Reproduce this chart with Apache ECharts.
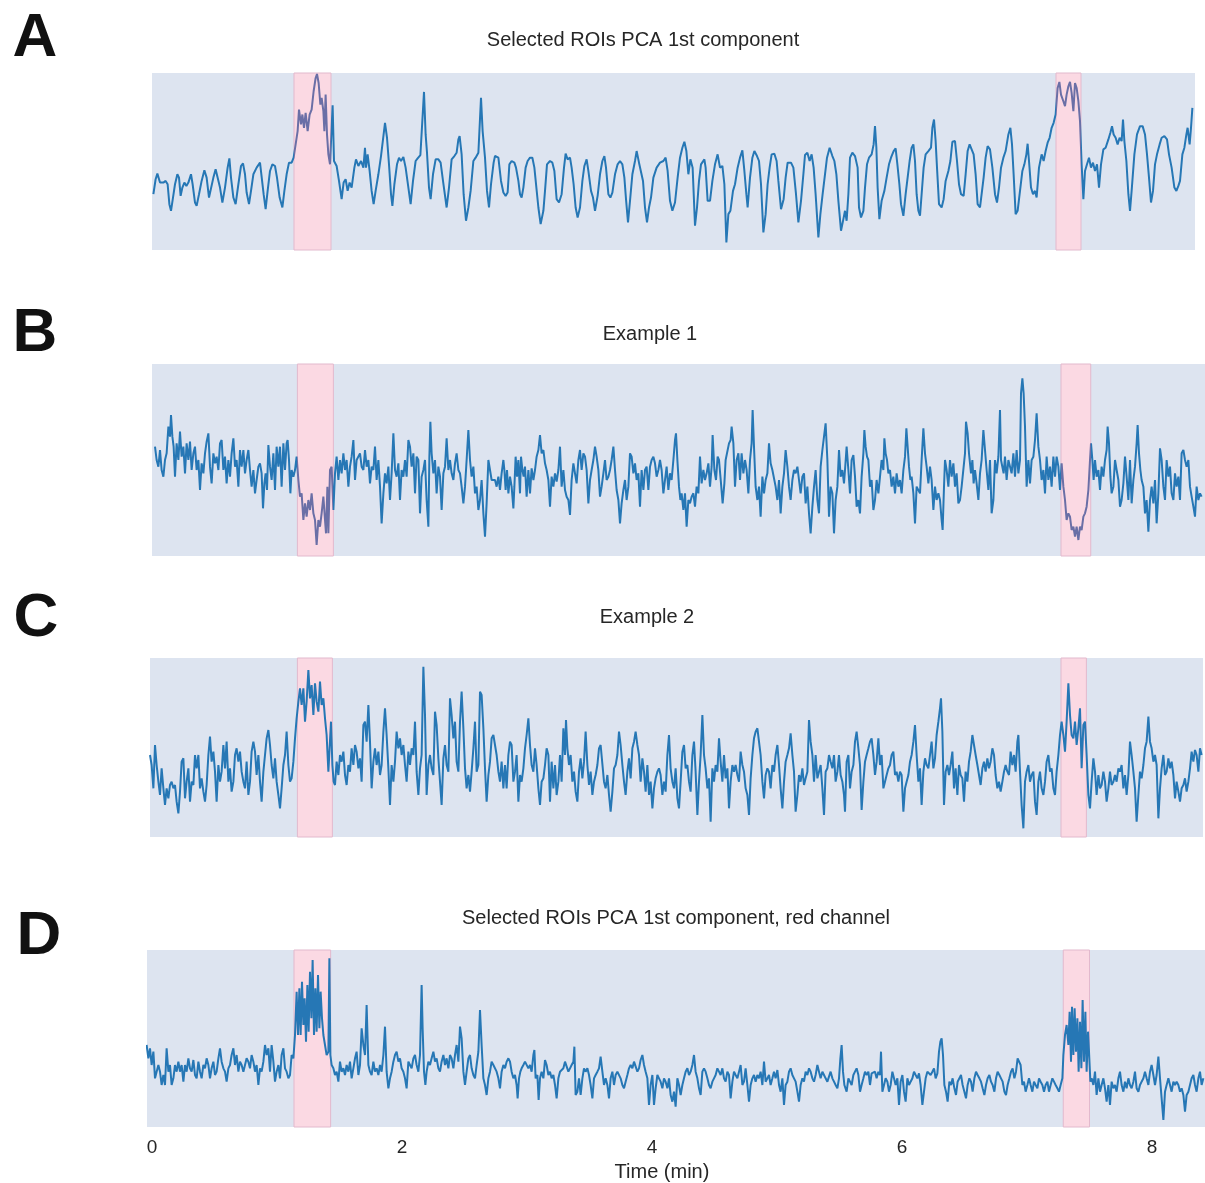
<!DOCTYPE html>
<html>
<head>
<meta charset="utf-8">
<script src="https://cdn.jsdelivr.net/npm/echarts@6.0.0/dist/echarts.min.js"></script>
<style>
  html, body { margin: 0; padding: 0; background: #fff; }
  #chart { width: 1205px; height: 1183px; }
</style>
</head>
<body>
<div id="chart"></div>
<script>
// ---- data (time in min, signal in a.u.) ----
const titles = ['Selected ROIs PCA 1st component', 'Example 1', 'Example 2', 'Selected ROIs PCA 1st component, red channel'];
const letters = ['A', 'B', 'C', 'D'];
const timeTicks = [0, 2, 4, 6, 8];

// stimulation windows (min)
const stimA = [[1.136, 1.432], [7.232, 7.432]];
const stimB = [[1.163, 1.451], [7.272, 7.510]];
const stimC = [[1.163, 1.443], [7.272, 7.475]];
const stimD = [[1.136, 1.429], [7.290, 7.500]];

const traceA = [[0.011,-0.30],[0.029,0.15],[0.043,0.32],[0.064,0.05],[0.091,0.05],[0.109,0.10],[0.125,0.00],[0.139,-0.60],[0.152,-0.80],[0.168,-0.40],[0.184,0.00],[0.203,0.30],[0.216,0.20],[0.229,-0.35],[0.243,-0.10],[0.259,0.05],[0.275,-0.05],[0.291,0.05],[0.312,0.30],[0.325,0.00],[0.344,-0.55],[0.357,-0.65],[0.376,-0.30],[0.397,0.10],[0.419,0.42],[0.437,0.20],[0.456,-0.40],[0.472,-0.45],[0.491,0.20],[0.509,0.45],[0.525,0.50],[0.544,-0.10],[0.563,-0.55],[0.584,-0.10],[0.605,0.50],[0.619,0.78],[0.632,0.20],[0.651,-0.40],[0.669,-0.60],[0.691,0.00],[0.712,0.55],[0.728,0.63],[0.744,0.30],[0.757,-0.25],[0.776,-0.60],[0.792,-0.20],[0.811,0.30],[0.837,0.50],[0.864,0.65],[0.877,0.60],[0.893,-0.30],[0.909,-0.75],[0.925,-0.20],[0.944,0.40],[0.963,0.60],[0.984,0.55],[1.000,0.20],[1.021,-0.40],[1.043,-0.70],[1.059,-0.20],[1.077,0.30],[1.096,0.65],[1.117,0.65],[1.133,0.80],[1.149,1.20],[1.165,1.60],[1.176,2.25],[1.192,1.80],[1.203,2.10],[1.216,1.70],[1.229,2.15],[1.245,1.60],[1.261,2.10],[1.277,2.25],[1.293,2.80],[1.309,3.20],[1.320,3.32],[1.333,3.05],[1.347,2.40],[1.357,2.60],[1.371,2.20],[1.379,1.60],[1.389,2.70],[1.400,1.50],[1.411,0.90],[1.424,0.60],[1.435,0.65],[1.445,2.38],[1.456,0.70],[1.477,0.55],[1.496,0.10],[1.517,-0.45],[1.533,0.05],[1.549,0.15],[1.565,-0.20],[1.581,0.05],[1.597,-0.10],[1.619,0.50],[1.632,0.75],[1.651,0.55],[1.672,0.70],[1.691,0.50],[1.704,1.10],[1.712,0.50],[1.725,0.90],[1.741,0.40],[1.757,-0.20],[1.773,-0.60],[1.789,-0.20],[1.811,0.30],[1.832,0.85],[1.848,0.80],[1.864,1.85],[1.880,1.40],[1.896,0.60],[1.912,-0.30],[1.923,-0.65],[1.939,0.00],[1.960,0.60],[1.976,0.80],[1.992,0.70],[2.011,0.82],[2.029,0.50],[2.051,-0.10],[2.069,-0.60],[2.088,0.10],[2.109,0.70],[2.125,0.78],[2.147,0.88],[2.163,0.90],[2.176,2.78],[2.189,1.50],[2.200,0.95],[2.216,-0.10],[2.229,-0.45],[2.248,0.30],[2.269,0.75],[2.291,0.75],[2.309,0.65],[2.328,0.10],[2.339,0.05],[2.357,-0.70],[2.376,-0.10],[2.397,0.75],[2.419,0.85],[2.437,0.95],[2.451,1.35],[2.461,1.45],[2.477,0.90],[2.493,-0.30],[2.512,-1.10],[2.531,-0.70],[2.549,-0.20],[2.571,0.70],[2.589,0.80],[2.611,0.95],[2.632,2.60],[2.645,1.60],[2.664,0.80],[2.680,-0.20],[2.696,-0.70],[2.712,0.00],[2.733,0.65],
[2.744,0.85],[2.771,0.80],[2.792,0.10],[2.811,-0.25],[2.829,-0.35],[2.845,-0.25],[2.859,0.60],[2.877,0.70],[2.899,0.65],[2.912,0.50],[2.931,0.10],[2.944,-0.30],[2.957,-0.40],[2.971,-0.10],[2.989,0.50],[3.005,0.70],[3.024,0.80],[3.043,0.80],[3.059,0.50],[3.075,-0.10],[3.091,-0.70],[3.109,-1.20],[3.131,-0.80],[3.144,-0.20],[3.160,0.60],[3.184,0.70],[3.203,0.65],[3.219,0.40],[3.237,-0.45],[3.256,-0.55],[3.277,-0.30],[3.296,0.50],[3.309,0.92],[3.325,0.75],[3.344,0.80],[3.357,0.50],[3.373,0.00],[3.389,-0.70],[3.405,-1.00],[3.424,-0.70],[3.443,0.10],[3.459,0.55],[3.477,0.75],[3.491,0.40],[3.512,-0.20],[3.528,-0.40],[3.544,-0.80],[3.565,-0.35],[3.584,0.30],[3.603,0.70],[3.619,0.85],[3.632,0.50],[3.651,-0.30],[3.667,-0.40],[3.683,-0.25],[3.704,0.30],[3.725,0.60],[3.744,0.70],[3.763,0.60],[3.779,0.20],[3.792,-0.45],[3.808,-1.15],[3.824,-0.50],[3.843,0.30],[3.864,0.70],[3.877,1.00],[3.896,0.65],[3.912,0.60],[3.928,0.10],[3.944,-0.70],[3.960,-1.15],[3.976,-0.70],[3.992,-0.40],[4.011,0.20],[4.037,0.50],[4.064,0.65],[4.091,0.70],[4.109,0.80],[4.125,0.40],[4.144,-0.50],[4.163,-0.80],[4.184,-0.55],[4.205,0.20],[4.224,0.80],[4.243,1.10],[4.259,1.28],[4.275,1.00],[4.291,0.30],[4.307,0.75],[4.325,0.50],[4.344,-1.25],[4.360,-0.70],[4.376,0.10],[4.392,0.60],[4.419,0.75],[4.429,0.50],[4.445,-0.50],[4.464,-0.50],[4.483,0.10],[4.504,0.60],[4.525,0.90],[4.544,0.50],[4.563,0.55],[4.579,0.00],[4.595,-1.75],[4.611,-0.90],[4.627,-0.80],[4.648,-0.20],[4.664,0.00],[4.685,0.50],[4.704,0.80],[4.723,1.02],[4.739,0.40],[4.755,-0.30],[4.765,-0.70],[4.784,0.20],[4.803,0.80],[4.819,1.00],[4.840,0.85],[4.856,0.70],[4.872,0.00],[4.891,-1.45],[4.909,-0.90],[4.925,0.00],[4.941,0.50],[4.957,0.90],[4.979,0.92],[4.997,0.70],[5.011,0.10],[5.032,-0.75],[5.053,-0.45],[5.069,0.20],[5.085,0.65],[5.112,0.65],[5.131,0.50],[5.152,-0.30],[5.171,-1.15],[5.192,-0.50],[5.211,0.30],[5.224,0.88],[5.243,0.95],[5.261,0.70],[5.277,0.90],[5.293,0.50],[5.309,-0.30],[5.331,-1.60],[5.347,-0.90],[5.365,-0.30],[5.384,0.30],[5.400,0.80],[5.421,1.10],[5.443,0.85],[5.459,0.70],[5.475,0.30],[5.491,-0.50],[5.512,-1.40],[5.531,-1.05],
[5.544,-0.80],[5.557,-1.10],[5.571,-0.30],[5.584,0.80],[5.603,0.95],[5.624,0.85],[5.645,0.50],[5.656,-0.70],[5.672,-1.00],[5.691,-0.80],[5.704,-0.10],[5.720,0.60],[5.736,0.80],[5.757,0.90],[5.773,1.20],[5.784,1.75],[5.795,1.10],[5.805,-0.10],[5.819,-1.05],[5.837,-0.50],[5.859,-0.20],[5.877,0.20],[5.896,0.60],[5.912,0.80],[5.933,1.00],[5.949,1.08],[5.963,0.60],[5.979,0.00],[5.992,-0.60],[6.011,-0.95],[6.029,-0.30],[6.045,0.20],[6.061,0.70],[6.077,1.10],[6.091,1.20],[6.104,0.70],[6.117,-0.30],[6.131,-0.80],[6.144,-0.95],[6.157,-0.30],[6.173,0.50],[6.189,0.90],[6.211,1.00],[6.232,1.10],[6.243,1.70],[6.256,1.95],[6.269,1.30],[6.280,0.50],[6.296,-0.60],[6.317,-0.70],[6.333,-0.45],[6.349,0.10],[6.371,0.40],[6.387,0.70],[6.403,1.28],[6.424,1.30],[6.440,0.70],[6.456,0.00],[6.472,-0.30],[6.493,-0.35],[6.509,0.30],[6.525,1.00],[6.541,1.20],[6.557,1.18],[6.573,0.90],[6.589,0.30],[6.605,-0.60],[6.624,-0.70],[6.637,-0.30],[6.653,0.20],[6.669,0.80],[6.685,1.15],[6.704,1.05],[6.723,0.50],[6.744,-0.30],[6.760,-0.55],[6.776,-0.10],[6.792,0.50],[6.811,0.80],[6.829,1.00],[6.851,1.50],[6.867,1.70],[6.880,1.20],[6.893,0.30],[6.909,-0.90],[6.925,-0.80],[6.944,-0.20],[6.963,0.40],[6.979,0.60],[6.995,0.90],[7.005,1.22],[7.016,0.70],[7.032,-0.10],[7.048,-0.30],[7.064,-0.20],[7.077,-0.40],[7.096,0.50],[7.117,0.90],[7.133,0.70],[7.149,1.00],[7.165,1.25],[7.181,1.40],[7.197,1.70],[7.213,1.85],[7.229,2.10],[7.245,2.90],[7.259,3.08],[7.272,2.70],[7.291,2.50],[7.304,2.35],[7.317,2.70],[7.331,2.95],[7.344,3.08],[7.357,2.75],[7.371,2.20],[7.384,3.05],[7.397,2.90],[7.411,2.50],[7.424,1.90],[7.437,0.60],[7.451,-0.45],[7.464,0.40],[7.480,0.60],[7.496,0.80],[7.512,0.50],[7.528,0.65],[7.544,0.40],[7.560,0.60],[7.576,-0.10],[7.592,0.60],[7.611,1.05],[7.629,1.10],[7.651,1.35],[7.667,1.55],[7.680,1.75],[7.693,1.50],[7.709,1.40],[7.725,1.20],[7.741,1.40],[7.757,1.30],[7.768,1.95],[7.779,1.30],[7.795,0.70],[7.811,-0.30],[7.824,-0.80],[7.837,-0.20],[7.859,0.90],[7.880,1.50],[7.904,1.75],[7.925,1.75],[7.944,1.50],[7.960,0.90],[7.976,0.20],[7.992,-0.55],[8.008,-0.20],[8.024,0.60],[8.040,0.90],[8.061,1.20],[8.077,1.40],[8.099,1.45],[8.120,1.35],[8.136,0.90],[8.157,0.50],[8.179,-0.10],[8.195,-0.20],[8.211,-0.05],[8.224,0.10],[8.243,0.90],[8.259,1.10],[8.275,1.50],[8.285,1.70],[8.301,1.20],[8.312,1.70],[8.323,2.30]];

const traceB = [[0.024,0.70],[0.037,0.30],[0.051,0.10],[0.064,0.60],[0.077,0.00],[0.091,-0.20],[0.104,0.30],[0.117,0.50],[0.131,1.30],[0.144,1.00],[0.152,1.65],[0.163,1.00],[0.173,0.70],[0.184,-0.20],[0.197,0.80],[0.211,0.30],[0.224,1.15],[0.237,0.40],[0.251,0.70],[0.264,-0.10],[0.277,0.80],[0.291,0.30],[0.304,0.85],[0.317,0.00],[0.331,0.50],[0.344,0.70],[0.357,0.00],[0.371,0.30],[0.384,-0.60],[0.397,0.20],[0.411,-0.10],[0.424,0.50],[0.437,0.85],[0.451,1.10],[0.464,0.10],[0.477,-0.40],[0.491,0.50],[0.504,0.20],[0.517,0.40],[0.531,0.00],[0.544,0.80],[0.557,0.90],[0.571,0.00],[0.584,0.40],[0.597,-0.40],[0.611,0.30],[0.624,-0.20],[0.637,0.50],[0.651,0.95],[0.664,0.10],[0.677,0.30],[0.691,-0.50],[0.704,0.60],[0.717,0.10],[0.731,0.60],[0.744,-0.10],[0.757,0.30],[0.771,0.60],[0.784,0.00],[0.797,-0.50],[0.811,0.00],[0.824,-0.70],[0.837,-0.30],[0.851,0.10],[0.864,0.20],[0.877,-0.10],[0.888,-1.15],[0.899,-0.40],[0.909,-0.10],[0.920,-0.60],[0.931,0.75],[0.944,0.10],[0.957,-0.30],[0.971,0.50],[0.984,-0.60],[0.997,0.70],[1.011,0.10],[1.024,0.70],[1.037,-0.50],[1.051,0.80],[1.064,0.00],[1.077,0.80],[1.085,0.90],[1.096,0.30],[1.107,-0.70],[1.117,0.00],[1.131,-0.20],[1.144,0.00],[1.157,0.40],[1.171,-0.30],[1.184,-0.80],[1.197,-0.70],[1.211,-1.50],[1.224,-1.00],[1.237,-1.40],[1.251,-0.90],[1.264,-1.20],[1.277,-0.70],[1.291,-1.30],[1.304,-1.50],[1.317,-2.25],[1.331,-1.50],[1.344,-1.70],[1.357,-1.30],[1.371,-0.80],[1.384,-1.50],[1.392,-1.90],[1.403,-0.50],[1.411,-1.90],[1.424,0.00],[1.437,0.10],[1.451,-1.20],[1.464,-0.10],[1.477,0.40],[1.491,-0.30],[1.504,0.30],[1.517,-0.10],[1.531,0.50],[1.544,0.00],[1.557,0.30],[1.571,-0.50],[1.584,0.10],[1.597,0.40],[1.611,0.90],[1.624,-0.30],[1.637,0.30],[1.651,0.30],[1.664,0.50],[1.677,0.10],[1.691,0.00],[1.704,0.60],[1.717,0.10],[1.731,0.30],[1.744,-0.40],[1.757,0.10],[1.771,0.00],[1.784,0.70],[1.797,-0.30],[1.811,0.30],[1.824,-0.50],[1.837,-1.60],[1.851,-0.70],[1.864,-0.10],[1.877,-0.40],[1.891,0.10],[1.904,-0.90],[1.917,-0.10],[1.931,1.10],[1.944,0.00],[1.957,-0.20],[1.971,0.20],[1.984,-0.90],[1.997,0.00],[2.011,-0.20],[2.024,0.30],[2.037,-0.20],[2.051,0.90],[2.064,0.70],[2.077,0.10],[2.091,0.50],[2.104,-0.70],[2.117,0.40],[2.131,0.30],[2.144,-1.30],[2.157,-0.20],[2.171,0.00],[2.184,0.30],[2.197,-0.90],[2.211,-1.70],[2.219,0.40],[2.227,1.45],[2.237,0.50],[2.251,-0.10],[2.264,0.30],[2.277,-0.70],[2.291,0.10],[2.304,-0.20],[2.317,-1.20],[2.331,-0.10],[2.344,0.10],[2.357,0.95],[2.371,0.00],[2.384,0.30],[2.397,-0.10],[2.411,-0.30],[2.424,0.20],[2.437,0.50],[2.451,0.00],[2.464,-0.10],[2.477,-0.50],[2.491,-1.00],[2.504,-0.50],[2.517,0.30],[2.531,1.20],[2.544,0.30],[2.557,-0.20],[2.571,0.10],[2.584,-0.70],[2.597,-0.50],[2.611,-1.20],[2.624,-0.90],[2.637,-0.30],[2.651,-1.30],[2.664,-2.00],[2.677,-1.00],[2.691,0.30],[2.704,0.30],[2.717,-0.30],[2.731,-0.30],
[2.744,-0.30],[2.757,-0.50],[2.771,-0.20],[2.784,-0.60],[2.797,-0.10],[2.811,0.30],[2.819,0.00],[2.829,-0.60],[2.840,0.00],[2.851,-0.70],[2.864,-0.20],[2.877,-0.50],[2.891,-1.15],[2.899,-0.50],[2.909,0.40],[2.920,-0.20],[2.931,0.30],[2.944,-0.70],[2.952,0.40],[2.963,0.00],[2.973,-0.20],[2.984,0.10],[2.997,-0.80],[3.011,0.00],[3.024,-0.70],[3.037,0.05],[3.051,-0.30],[3.064,0.00],[3.077,0.40],[3.091,0.60],[3.104,1.05],[3.117,0.50],[3.131,0.60],[3.144,0.20],[3.157,0.00],[3.171,-0.30],[3.184,-1.10],[3.197,-0.20],[3.211,-0.50],[3.224,-0.10],[3.237,-0.35],[3.251,0.00],[3.264,0.70],[3.277,-0.50],[3.291,0.00],[3.304,-0.60],[3.317,-0.80],[3.331,-0.90],[3.344,-1.35],[3.357,-0.30],[3.371,0.20],[3.384,-0.10],[3.397,-0.40],[3.411,0.30],[3.424,0.60],[3.437,0.00],[3.451,0.50],[3.464,0.40],[3.477,0.00],[3.491,-1.00],[3.504,-0.30],[3.517,0.00],[3.531,0.30],[3.544,0.70],[3.557,0.40],[3.571,0.00],[3.584,-0.80],[3.597,-0.50],[3.611,-0.10],[3.624,0.30],[3.637,-0.30],[3.651,-0.20],[3.664,0.00],[3.677,0.30],[3.691,0.70],[3.704,0.00],[3.717,-0.60],[3.731,-0.90],[3.744,-1.60],[3.757,-1.00],[3.771,-0.60],[3.784,-0.30],[3.797,-0.90],[3.811,-0.50],[3.824,0.50],[3.837,0.40],[3.851,-0.10],[3.864,0.20],[3.877,-0.30],[3.891,-0.10],[3.904,-1.10],[3.917,0.00],[3.931,-0.60],[3.944,0.00],[3.957,0.10],[3.971,-0.60],[3.984,0.10],[3.997,0.30],[4.011,0.40],[4.024,0.20],[4.037,-0.20],[4.051,0.00],[4.064,0.30],[4.077,0.00],[4.091,-0.70],[4.104,-0.30],[4.117,0.10],[4.131,-0.60],[4.144,-0.10],[4.157,-0.30],[4.171,0.30],[4.184,0.90],[4.192,1.10],[4.203,0.30],[4.216,-0.50],[4.227,-0.90],[4.237,-0.70],[4.251,-1.20],[4.264,-0.70],[4.277,-1.70],[4.291,-0.90],[4.304,-1.00],[4.317,-0.80],[4.331,-0.70],[4.344,-1.10],[4.357,-0.50],[4.371,-0.70],[4.384,0.40],[4.397,-0.40],[4.411,0.00],[4.424,-0.30],[4.437,-0.10],[4.451,0.20],[4.464,-0.50],[4.477,0.10],[4.485,1.05],[4.499,0.00],[4.512,-0.30],[4.525,0.40],[4.536,0.30],[4.552,-0.40],[4.565,-1.00],[4.579,-0.40],[4.589,0.30],[4.603,0.30],[4.616,0.80],[4.629,0.90],[4.637,1.30],[4.651,0.80],[4.664,-0.50],[4.677,0.30],[4.691,0.50],[4.704,-0.30],[4.717,0.50],[4.731,-0.10],[4.744,0.30],[4.757,0.00],[4.771,-0.70],[4.784,0.30],[4.797,0.80],[4.805,1.80],[4.816,0.70],[4.829,-0.50],[4.843,-0.90],[4.856,-0.50],[4.869,-1.40],[4.883,-0.20],[4.896,-0.70],[4.909,-0.30],[4.923,-0.10],[4.936,0.80],[4.949,0.20],[4.963,0.00],[4.976,0.00],[4.989,-0.50],[5.003,-0.90],[5.016,-0.30],[5.029,-1.30],[5.043,-0.50],[5.056,-0.10],[5.069,0.60],[5.083,0.10],[5.096,-0.50],[5.109,-0.90],[5.123,-0.30],[5.136,0.00],[5.149,-0.10],[5.163,0.10],[5.176,-0.30],[5.189,-0.70],[5.203,-0.20],[5.216,-0.10],[5.229,-1.00],[5.243,-0.50],[5.256,-1.30],[5.269,-1.90],[5.283,-1.10],[5.296,-0.50],[5.309,0.00],[5.323,-0.90],[5.336,-1.30],[5.349,0.10],[5.363,0.60],[5.376,1.00],[5.389,1.40],[5.403,0.30],[5.416,-1.40],[5.429,-0.50],[5.443,-0.70],[5.456,-1.90],[5.469,-0.90],[5.483,-0.50],[5.496,0.60],[5.509,-0.20],[5.523,0.00],[5.536,-0.40],
[5.544,0.00],[5.557,0.70],[5.571,0.00],[5.584,-0.70],[5.597,0.30],[5.611,0.45],[5.624,-0.20],[5.637,-1.10],[5.651,-0.90],[5.664,-1.30],[5.677,-0.20],[5.691,0.50],[5.699,1.20],[5.709,0.70],[5.720,0.40],[5.731,0.30],[5.744,-0.50],[5.757,-0.30],[5.771,-1.20],[5.784,-0.90],[5.797,-0.30],[5.811,-0.70],[5.824,-0.20],[5.837,0.30],[5.851,0.00],[5.859,0.95],[5.869,0.50],[5.880,0.30],[5.891,-0.10],[5.904,0.00],[5.917,-0.50],[5.931,-0.20],[5.944,-0.70],[5.957,-0.10],[5.971,-0.50],[5.984,-0.30],[5.997,-0.70],[6.011,0.00],[6.024,0.40],[6.035,1.25],[6.045,0.70],[6.056,0.10],[6.067,-0.30],[6.077,-0.20],[6.091,-0.70],[6.104,-1.60],[6.117,-0.50],[6.131,-0.50],[6.144,-0.70],[6.157,0.30],[6.171,1.25],[6.184,0.50],[6.197,0.10],[6.211,-0.40],[6.224,0.10],[6.237,-0.30],[6.251,-1.20],[6.264,-0.50],[6.277,-0.90],[6.291,-0.70],[6.304,-0.90],[6.317,-1.50],[6.325,-1.80],[6.336,-0.50],[6.344,0.30],[6.357,0.00],[6.371,-0.50],[6.384,0.30],[6.397,-0.20],[6.411,0.20],[6.424,-0.50],[6.437,-0.10],[6.451,-1.00],[6.464,-0.90],[6.477,-0.50],[6.491,-0.50],[6.504,0.50],[6.512,1.45],[6.525,1.10],[6.536,0.50],[6.552,-0.10],[6.563,0.30],[6.573,-0.40],[6.584,0.00],[6.597,-0.40],[6.611,-0.90],[6.624,-0.10],[6.637,0.30],[6.651,1.20],[6.664,0.60],[6.677,0.00],[6.691,-0.60],[6.704,0.30],[6.717,-1.30],[6.731,-0.90],[6.744,0.30],[6.757,-0.10],[6.771,0.40],[6.784,1.80],[6.792,0.30],[6.803,0.30],[6.813,-0.10],[6.824,0.40],[6.837,-0.30],[6.851,0.30],[6.864,0.30],[6.877,-0.10],[6.891,0.50],[6.904,-0.20],[6.917,0.60],[6.931,-0.10],[6.944,0.30],[6.952,2.30],[6.963,2.75],[6.973,2.30],[6.984,1.30],[6.997,-0.50],[7.011,0.30],[7.024,-0.40],[7.037,0.30],[7.051,0.40],[7.064,0.90],[7.077,1.70],[7.091,0.70],[7.104,0.30],[7.117,-0.30],[7.131,0.00],[7.144,-0.70],[7.157,0.40],[7.171,-0.30],[7.184,0.10],[7.197,-0.50],[7.211,0.40],[7.224,-0.20],[7.237,0.40],[7.251,0.10],[7.264,-0.60],[7.277,0.20],[7.291,-0.50],[7.304,-0.90],[7.317,-1.50],[7.331,-1.30],[7.344,-1.40],[7.357,-1.80],[7.371,-1.70],[7.384,-2.00],[7.397,-1.70],[7.411,-2.10],[7.424,-1.70],[7.437,-1.80],[7.451,-1.40],[7.464,-1.30],[7.477,-1.10],[7.491,-0.60],[7.504,0.30],[7.512,0.80],[7.523,0.30],[7.533,-0.30],[7.544,0.30],[7.557,-0.20],[7.571,0.00],[7.584,-0.60],[7.597,0.10],[7.611,-0.20],[7.624,0.30],[7.637,0.60],[7.645,1.30],[7.656,0.80],[7.667,-0.20],[7.677,-0.70],[7.691,-0.50],[7.704,0.30],[7.717,0.00],[7.731,-0.30],[7.744,-1.10],[7.757,-0.90],[7.771,-0.40],[7.784,0.40],[7.797,-0.20],[7.811,-0.90],[7.824,0.30],[7.837,-1.00],[7.851,-0.30],[7.864,0.10],[7.877,0.80],[7.885,1.35],[7.896,0.50],[7.907,0.00],[7.917,-0.30],[7.931,-0.50],[7.944,-1.30],[7.957,-0.90],[7.971,-1.85],[7.984,-0.90],[7.997,-0.50],[8.011,-1.00],[8.024,-0.30],[8.037,-1.60],[8.051,-0.70],[8.064,0.65],[8.077,0.30],[8.091,-0.50],[8.104,-0.90],[8.117,0.30],[8.131,-0.20],[8.144,0.10],[8.157,-0.70],[8.171,-0.90],[8.184,-0.10],[8.197,-0.50],[8.211,-0.20],[8.224,-0.90],[8.237,0.50],[8.251,0.60],[8.264,0.30],[8.277,0.10],[8.291,0.30],[8.304,-0.50],[8.317,-0.80],[8.331,-1.10],[8.344,-1.40],[8.357,-0.50],[8.371,-0.90],[8.384,-0.70],[8.397,-0.80]];

const traceC = [[-0.016,0.30],[-0.003,0.00],[0.011,-0.70],[0.024,0.60],[0.037,0.00],[0.051,-0.50],[0.064,-0.90],[0.077,-0.10],[0.091,-0.70],[0.104,-1.20],[0.117,-0.70],[0.131,-1.00],[0.144,-0.60],[0.157,-0.50],[0.171,-0.70],[0.184,-0.60],[0.197,-1.10],[0.211,-1.45],[0.224,-0.80],[0.237,0.10],[0.251,0.20],[0.264,-1.00],[0.277,-0.50],[0.291,-0.10],[0.304,-1.10],[0.317,-0.50],[0.331,-0.60],[0.344,0.30],[0.357,-0.10],[0.371,0.30],[0.384,-0.70],[0.397,-0.40],[0.411,-0.80],[0.424,-1.10],[0.437,-0.60],[0.451,0.30],[0.464,0.85],[0.477,0.10],[0.491,0.40],[0.504,-0.20],[0.517,-1.10],[0.531,0.00],[0.544,-0.50],[0.557,-0.20],[0.571,0.60],[0.584,-0.10],[0.597,0.70],[0.611,-0.50],[0.624,-0.10],[0.637,-0.80],[0.651,-0.50],[0.664,0.30],[0.677,0.50],[0.691,0.10],[0.704,0.40],[0.717,-0.20],[0.731,-0.50],[0.744,-0.70],[0.757,0.10],[0.771,-0.90],[0.784,-0.50],[0.797,0.40],[0.811,0.70],[0.824,0.40],[0.837,-0.30],[0.851,0.30],[0.864,-0.50],[0.877,-1.10],[0.891,-0.20],[0.904,0.30],[0.917,0.80],[0.931,1.05],[0.944,0.60],[0.957,0.00],[0.971,-0.40],[0.984,0.20],[0.997,-0.50],[1.011,-0.90],[1.024,-1.30],[1.037,-0.70],[1.051,0.00],[1.064,0.30],[1.077,1.00],[1.091,0.00],[1.104,-0.50],[1.117,-0.40],[1.131,0.10],[1.144,0.80],[1.157,1.40],[1.171,1.90],[1.184,2.30],[1.197,1.80],[1.211,2.30],[1.224,1.30],[1.237,1.90],[1.251,2.85],[1.264,2.00],[1.277,2.40],[1.291,1.50],[1.304,2.45],[1.317,1.90],[1.331,1.60],[1.344,2.50],[1.357,1.80],[1.371,2.00],[1.384,1.40],[1.397,0.90],[1.411,-0.20],[1.424,-0.20],[1.432,1.30],[1.443,0.00],[1.453,-0.50],[1.464,-0.60],[1.477,0.10],[1.491,-0.30],[1.504,0.30],[1.517,0.10],[1.531,0.40],[1.544,-0.30],[1.557,-0.60],[1.571,0.00],[1.584,-0.20],[1.597,0.50],[1.611,0.00],[1.624,0.60],[1.637,0.40],[1.651,-0.10],[1.664,0.20],[1.677,-0.50],[1.691,1.20],[1.704,1.30],[1.717,0.70],[1.731,1.80],[1.744,0.70],[1.757,-0.70],[1.771,0.10],[1.784,0.50],[1.797,0.00],[1.811,0.40],[1.824,-0.30],[1.837,0.00],[1.851,1.00],[1.864,1.70],[1.877,0.90],[1.891,-0.10],[1.904,-1.20],[1.917,0.00],[1.931,-0.50],[1.944,0.10],[1.957,1.00],[1.971,0.50],[1.984,0.80],[1.997,0.30],[2.011,0.60],[2.024,0.00],[2.037,-0.50],[2.051,0.40],[2.064,0.00],[2.077,0.50],[2.091,0.30],[2.104,1.30],[2.117,-0.20],[2.131,-0.90],[2.144,-0.10],[2.157,0.30],[2.171,2.95],[2.184,1.50],[2.197,-0.90],[2.211,0.00],[2.224,0.30],[2.237,-0.10],[2.251,-0.30],[2.264,1.60],[2.277,1.20],[2.291,0.20],[2.304,-0.50],[2.317,-1.20],[2.331,0.20],[2.344,0.60],[2.357,0.00],[2.371,-0.20],[2.384,2.00],[2.397,1.50],[2.411,0.80],[2.424,1.30],[2.437,0.10],[2.451,-0.20],[2.464,1.30],[2.477,2.20],[2.491,1.10],[2.504,-0.10],[2.517,-0.70],[2.531,-0.30],[2.544,-0.80],[2.557,-0.20],[2.571,0.50],[2.584,1.30],[2.597,-0.20],[2.611,0.00],[2.624,2.20],[2.637,2.10],[2.651,1.10],[2.664,-0.10],[2.677,-1.10],[2.691,-0.30],[2.704,0.10],[2.717,0.80],[2.731,0.90],
[2.744,0.90],[2.757,0.30],[2.771,-0.20],[2.784,-0.50],[2.797,0.10],[2.811,-0.70],[2.824,0.00],[2.837,-0.70],[2.851,0.30],[2.864,0.70],[2.877,0.60],[2.891,-0.50],[2.904,-0.20],[2.917,0.30],[2.931,-1.10],[2.944,-0.30],[2.957,-0.50],[2.971,-0.10],[2.984,0.50],[2.997,0.90],[3.011,1.40],[3.024,0.60],[3.037,0.00],[3.051,-0.20],[3.064,0.50],[3.077,0.00],[3.091,-0.70],[3.104,-1.20],[3.117,-0.50],[3.131,-0.40],[3.144,0.00],[3.157,0.50],[3.171,0.30],[3.184,-1.10],[3.197,0.10],[3.211,-0.70],[3.224,0.00],[3.237,-0.90],[3.251,-0.50],[3.264,0.30],[3.277,-0.50],[3.291,1.10],[3.304,0.30],[3.312,1.35],[3.323,0.50],[3.336,0.00],[3.349,0.30],[3.363,-0.50],[3.376,-0.20],[3.389,-0.80],[3.403,-1.10],[3.416,-0.20],[3.429,0.20],[3.443,-0.40],[3.456,0.10],[3.469,1.00],[3.483,0.00],[3.496,-0.60],[3.509,-0.20],[3.523,-0.90],[3.536,-0.50],[3.549,-0.30],[3.563,0.00],[3.576,0.50],[3.589,0.60],[3.603,0.60],[3.616,-0.50],[3.629,-0.70],[3.643,-0.30],[3.656,-0.90],[3.669,-1.40],[3.683,-0.80],[3.696,-0.10],[3.709,0.00],[3.723,0.30],[3.736,1.00],[3.749,0.60],[3.763,0.00],[3.776,-0.50],[3.789,-0.90],[3.803,-0.20],[3.816,0.20],[3.829,-0.40],[3.843,0.50],[3.856,0.70],[3.869,1.00],[3.883,0.60],[3.896,0.30],[3.909,-0.50],[3.923,0.20],[3.936,-0.20],[3.949,-0.80],[3.963,0.00],[3.976,-0.90],[3.989,-0.50],[4.003,-1.30],[4.016,-0.70],[4.029,-0.40],[4.043,-0.20],[4.056,-0.10],[4.069,-0.30],[4.083,-0.90],[4.096,-0.50],[4.109,-0.80],[4.123,0.30],[4.136,0.90],[4.149,-0.10],[4.163,-0.50],[4.176,-0.70],[4.189,-0.10],[4.203,-1.00],[4.216,-1.30],[4.229,-0.50],[4.243,0.40],[4.256,0.60],[4.269,-0.10],[4.283,0.00],[4.296,-0.50],[4.309,-0.80],[4.323,0.30],[4.336,0.70],[4.349,-0.20],[4.363,-1.50],[4.376,-0.50],[4.389,0.30],[4.403,1.50],[4.416,0.30],[4.429,-0.10],[4.443,-0.70],[4.456,-0.40],[4.469,-1.70],[4.483,-0.10],[4.496,-0.50],[4.509,0.00],[4.523,-0.20],[4.536,0.80],[4.549,0.10],[4.563,-0.50],[4.576,0.30],[4.589,-0.40],[4.603,-0.10],[4.616,-1.30],[4.629,-0.50],[4.643,0.00],[4.656,-0.20],[4.669,0.00],[4.683,-0.30],[4.696,-0.50],[4.709,0.40],[4.723,0.00],[4.736,-0.20],[4.749,-0.70],[4.763,-0.90],[4.776,-1.50],[4.789,-0.40],[4.803,0.30],[4.816,0.80],[4.829,1.00],[4.843,1.10],[4.856,0.70],[4.869,0.30],[4.883,-0.50],[4.896,-1.00],[4.909,-0.30],[4.923,-0.10],[4.936,-0.20],[4.949,-0.70],[4.963,0.00],[4.976,-0.20],[4.989,0.30],[5.003,0.60],[5.016,0.00],[5.029,-0.70],[5.043,-1.30],[5.056,-0.50],[5.069,0.10],[5.083,0.30],[5.096,0.50],[5.109,0.95],[5.123,0.30],[5.136,-0.20],[5.149,-1.40],[5.163,-0.90],[5.176,-0.30],[5.189,-0.50],[5.203,-0.10],[5.216,-0.60],[5.229,-0.40],[5.243,-0.20],[5.256,1.35],[5.269,0.70],[5.283,0.30],[5.296,-0.50],[5.309,0.30],[5.323,-0.40],[5.336,-0.20],[5.349,0.00],[5.363,-0.70],[5.376,-1.50],[5.389,-0.20],[5.403,-0.10],[5.416,0.30],[5.429,0.10],[5.443,-0.10],[5.456,0.30],[5.469,-0.50],[5.483,-0.20],[5.496,0.30],[5.509,-0.30],[5.523,-0.50],[5.536,-0.90],
[5.544,-1.40],[5.557,0.10],[5.571,0.30],[5.584,-0.70],[5.597,-0.20],[5.611,0.00],[5.624,0.70],[5.637,1.00],[5.651,0.50],[5.664,0.00],[5.677,-1.35],[5.691,-0.50],[5.704,0.10],[5.717,0.30],[5.731,0.50],[5.744,0.70],[5.757,0.80],[5.771,0.30],[5.784,-0.30],[5.797,0.10],[5.811,0.80],[5.824,0.00],[5.837,0.30],[5.851,-0.70],[5.864,-0.50],[5.877,-0.30],[5.891,-0.10],[5.904,0.00],[5.917,0.30],[5.931,0.40],[5.944,-0.30],[5.957,-0.20],[5.971,-0.50],[5.984,-0.20],[5.997,-0.30],[6.011,-1.40],[6.024,-0.70],[6.037,-0.50],[6.051,-0.30],[6.064,0.10],[6.077,0.30],[6.091,0.70],[6.104,1.20],[6.117,0.30],[6.131,-0.50],[6.144,-0.10],[6.157,-1.20],[6.171,-0.20],[6.184,0.20],[6.197,0.00],[6.211,-0.10],[6.224,0.30],[6.237,0.70],[6.251,-0.10],[6.264,0.20],[6.277,0.90],[6.291,1.30],[6.304,1.70],[6.312,2.00],[6.323,1.00],[6.336,-1.20],[6.349,-0.20],[6.363,0.00],[6.376,-0.30],[6.389,0.00],[6.403,0.40],[6.416,-0.70],[6.429,-0.10],[6.443,-0.90],[6.456,0.00],[6.469,-0.30],[6.483,-0.40],[6.496,-1.10],[6.509,-0.20],[6.523,-0.50],[6.536,0.10],[6.549,0.40],[6.563,0.90],[6.576,0.60],[6.589,0.30],[6.603,0.00],[6.616,-0.30],[6.629,-0.60],[6.643,-0.10],[6.656,0.10],[6.669,-0.20],[6.683,0.20],[6.696,-0.10],[6.709,0.10],[6.723,0.50],[6.736,0.30],[6.749,-0.30],[6.763,-0.70],[6.776,-0.50],[6.789,-0.80],[6.803,-0.50],[6.816,-0.20],[6.829,0.00],[6.843,-0.20],[6.856,-0.30],[6.869,0.40],[6.883,0.00],[6.896,0.30],[6.909,-0.20],[6.923,0.70],[6.931,0.90],[6.944,-0.20],[6.957,-1.20],[6.971,-1.90],[6.984,-0.50],[6.997,-0.20],[7.011,0.00],[7.024,-0.50],[7.037,-0.30],[7.051,-0.20],[7.064,-1.10],[7.077,-1.50],[7.091,-0.50],[7.104,-0.20],[7.117,-0.70],[7.131,-0.90],[7.144,-0.50],[7.157,0.10],[7.171,0.30],[7.184,-0.20],[7.197,-0.10],[7.211,-0.70],[7.224,-0.90],[7.237,-0.20],[7.251,0.30],[7.264,0.90],[7.277,1.30],[7.291,0.90],[7.304,0.40],[7.317,1.30],[7.331,2.45],[7.344,1.50],[7.357,0.90],[7.371,0.80],[7.384,1.30],[7.397,0.60],[7.411,1.10],[7.424,1.70],[7.437,-0.10],[7.451,1.20],[7.464,1.30],[7.477,0.30],[7.491,-0.90],[7.504,-1.30],[7.517,-0.50],[7.531,0.20],[7.544,-0.20],[7.557,-0.90],[7.571,-0.30],[7.584,-0.70],[7.597,-0.60],[7.611,-0.20],[7.624,-0.50],[7.637,-1.10],[7.651,-0.70],[7.664,-0.20],[7.677,-0.60],[7.691,-0.50],[7.704,-0.30],[7.717,-0.50],[7.731,-0.10],[7.744,-0.20],[7.757,0.00],[7.771,-0.70],[7.784,-0.30],[7.797,-0.90],[7.811,-0.30],[7.824,0.70],[7.837,0.30],[7.851,-0.20],[7.864,-0.70],[7.877,-1.70],[7.891,-0.90],[7.904,-0.20],[7.917,-0.40],[7.931,0.00],[7.944,0.50],[7.957,0.70],[7.971,1.45],[7.984,0.70],[7.997,0.50],[8.011,0.10],[8.024,0.30],[8.037,0.00],[8.051,-1.60],[8.064,-0.70],[8.077,-0.10],[8.091,0.30],[8.104,-0.30],[8.117,-0.20],[8.131,0.20],[8.144,-0.10],[8.157,0.10],[8.171,-0.30],[8.184,-1.00],[8.197,-0.50],[8.211,-0.80],[8.224,-1.10],[8.237,-0.70],[8.251,-0.60],[8.264,-0.40],[8.277,-0.80],[8.291,-0.50],[8.304,-0.10],[8.317,0.40],[8.331,0.10],[8.344,0.45],[8.357,0.30],[8.371,-0.20],[8.384,0.50],[8.397,0.30]];

const traceD = [[-0.043,1.00],[-0.029,0.60],[-0.016,0.90],[-0.003,0.40],[0.011,0.80],[0.024,0.00],[0.037,0.20],[0.051,0.40],[0.064,0.20],[0.077,-0.20],[0.091,0.10],[0.104,-0.20],[0.117,0.90],[0.131,0.20],[0.144,0.40],[0.157,-0.20],[0.171,0.00],[0.184,0.40],[0.197,0.20],[0.211,0.50],[0.224,0.20],[0.237,0.40],[0.251,-0.10],[0.264,0.40],[0.277,0.20],[0.291,0.60],[0.304,0.30],[0.317,0.20],[0.331,0.55],[0.344,0.10],[0.357,0.00],[0.371,0.50],[0.384,0.20],[0.397,0.00],[0.411,0.40],[0.424,0.30],[0.437,0.60],[0.451,0.40],[0.464,0.00],[0.477,0.30],[0.491,0.50],[0.504,0.10],[0.517,0.20],[0.531,0.60],[0.544,0.90],[0.557,0.50],[0.571,0.30],[0.584,0.20],[0.597,-0.10],[0.611,0.30],[0.624,0.40],[0.637,0.70],[0.651,0.90],[0.664,0.40],[0.677,0.70],[0.691,0.20],[0.704,0.50],[0.717,0.40],[0.731,0.20],[0.744,0.40],[0.757,0.60],[0.771,0.50],[0.784,0.30],[0.797,0.70],[0.811,0.50],[0.824,0.20],[0.837,0.40],[0.851,-0.20],[0.864,0.30],[0.877,0.20],[0.891,0.50],[0.904,1.00],[0.917,0.70],[0.931,0.90],[0.944,0.20],[0.957,1.00],[0.971,0.50],[0.984,-0.10],[0.997,0.20],[1.011,0.40],[1.024,0.00],[1.037,0.70],[1.051,0.90],[1.064,0.30],[1.077,0.20],[1.091,0.00],[1.104,0.10],[1.117,0.70],[1.131,0.60],[1.144,1.30],[1.157,2.60],[1.168,1.30],[1.179,2.70],[1.189,1.30],[1.200,2.90],[1.211,1.60],[1.221,2.40],[1.232,1.10],[1.243,2.80],[1.253,1.40],[1.264,3.20],[1.275,1.80],[1.285,3.55],[1.296,1.30],[1.307,2.70],[1.317,1.40],[1.328,3.10],[1.339,1.50],[1.349,2.60],[1.360,1.80],[1.371,1.30],[1.384,1.00],[1.397,0.70],[1.411,0.80],[1.419,3.60],[1.427,0.70],[1.437,0.40],[1.451,0.30],[1.464,0.10],[1.477,0.20],[1.491,-0.10],[1.504,0.50],[1.517,0.20],[1.531,0.30],[1.544,0.10],[1.557,0.40],[1.571,0.20],[1.584,0.50],[1.597,0.00],[1.611,0.30],[1.624,0.60],[1.637,0.80],[1.651,0.10],[1.664,0.40],[1.677,1.50],[1.691,1.00],[1.704,0.70],[1.717,2.20],[1.731,0.40],[1.744,0.20],[1.757,0.10],[1.771,0.50],[1.784,0.20],[1.797,0.30],[1.811,0.10],[1.824,0.40],[1.837,0.20],[1.851,0.70],[1.864,1.55],[1.877,0.20],[1.891,-0.30],[1.904,0.00],[1.917,0.20],[1.931,0.50],[1.944,0.70],[1.957,0.80],[1.971,0.50],[1.984,0.60],[1.997,0.30],[2.011,0.20],[2.024,0.00],[2.037,-0.30],[2.051,0.50],[2.064,0.40],[2.077,0.30],[2.091,0.60],[2.104,0.70],[2.117,0.40],[2.131,0.20],[2.144,0.70],[2.157,2.80],[2.165,1.50],[2.176,0.20],[2.187,-0.20],[2.197,0.20],[2.211,0.50],[2.224,0.40],[2.237,0.60],[2.251,0.80],[2.264,0.50],[2.277,0.60],[2.291,0.30],[2.304,0.20],[2.317,0.50],[2.331,0.70],[2.344,0.40],[2.357,0.60],[2.371,0.30],[2.384,0.70],[2.397,0.60],[2.411,0.30],[2.424,0.70],[2.437,1.00],[2.451,0.50],[2.464,1.55],[2.477,1.20],[2.491,0.20],[2.504,-0.20],[2.517,0.20],[2.531,0.60],[2.544,0.70],[2.557,0.30],[2.571,0.10],[2.584,0.00],[2.597,0.40],[2.611,0.80],[2.624,2.05],[2.637,1.00],[2.651,0.00],[2.664,-0.20],[2.677,-0.50],[2.691,0.00],[2.704,0.20],[2.717,0.50],[2.731,0.40],
[2.744,0.40],[2.757,0.20],[2.771,0.00],[2.784,-0.30],[2.797,0.20],[2.811,0.40],[2.824,0.30],[2.837,0.50],[2.851,0.60],[2.864,0.50],[2.877,0.20],[2.891,0.00],[2.904,0.10],[2.917,-0.20],[2.925,-0.60],[2.936,0.00],[2.947,0.20],[2.957,0.30],[2.971,0.40],[2.984,0.50],[2.997,0.50],[3.011,0.30],[3.024,0.40],[3.037,0.20],[3.051,0.70],[3.059,0.85],[3.069,0.00],[3.083,0.10],[3.093,-0.65],[3.104,0.00],[3.117,0.20],[3.131,0.00],[3.144,0.55],[3.157,0.40],[3.171,0.10],[3.184,0.20],[3.197,0.00],[3.211,0.10],[3.224,-0.20],[3.237,-0.60],[3.251,0.00],[3.264,0.20],[3.277,0.20],[3.291,0.30],[3.304,0.50],[3.317,0.55],[3.331,0.20],[3.344,0.30],[3.357,0.40],[3.371,0.50],[3.379,0.95],[3.389,-0.50],[3.403,-0.40],[3.416,0.00],[3.429,-0.50],[3.443,0.00],[3.456,0.30],[3.469,0.20],[3.483,0.30],[3.496,0.10],[3.509,-0.20],[3.523,-0.60],[3.536,0.00],[3.549,0.10],[3.563,0.20],[3.576,0.30],[3.589,0.65],[3.603,0.20],[3.616,-0.20],[3.629,0.00],[3.643,-0.20],[3.656,-0.60],[3.669,0.00],[3.683,0.20],[3.696,-0.20],[3.709,0.10],[3.723,0.20],[3.736,0.25],[3.749,0.00],[3.763,-0.20],[3.776,-0.30],[3.789,-0.10],[3.803,0.10],[3.816,0.30],[3.829,0.40],[3.843,0.30],[3.856,0.50],[3.869,0.45],[3.883,0.20],[3.896,0.30],[3.909,0.55],[3.923,0.70],[3.936,0.40],[3.949,0.20],[3.963,0.00],[3.976,-0.80],[3.989,-0.20],[4.003,0.10],[4.016,-0.80],[4.029,-0.30],[4.043,0.10],[4.056,0.00],[4.069,-0.10],[4.083,-0.30],[4.096,0.00],[4.109,-0.10],[4.123,-0.30],[4.136,0.00],[4.149,-0.50],[4.163,-0.70],[4.176,-0.40],[4.189,-0.85],[4.203,0.00],[4.216,-0.20],[4.229,-0.50],[4.243,-0.20],[4.256,0.00],[4.269,0.20],[4.283,0.30],[4.296,0.10],[4.309,0.20],[4.323,0.40],[4.336,0.70],[4.349,0.20],[4.363,0.00],[4.376,-0.30],[4.389,-0.50],[4.403,0.20],[4.416,0.30],[4.429,0.20],[4.443,0.00],[4.456,-0.20],[4.469,-0.30],[4.483,-0.10],[4.496,0.00],[4.509,0.10],[4.523,0.30],[4.536,0.20],[4.549,0.10],[4.563,0.30],[4.576,0.00],[4.589,-0.10],[4.603,0.20],[4.616,0.10],[4.629,-0.60],[4.643,-0.10],[4.656,0.20],[4.669,0.10],[4.683,0.00],[4.696,0.20],[4.709,0.40],[4.723,-0.20],[4.736,-0.10],[4.749,0.30],[4.763,-0.20],[4.776,-0.70],[4.789,-0.20],[4.803,0.00],[4.816,0.10],[4.829,-0.10],[4.843,0.10],[4.856,0.00],[4.869,0.20],[4.883,-0.20],[4.896,0.50],[4.909,-0.10],[4.923,0.00],[4.936,0.10],[4.949,-0.20],[4.963,0.00],[4.976,0.20],[4.989,0.00],[5.003,0.25],[5.016,-0.20],[5.029,-0.40],[5.043,0.00],[5.056,-0.80],[5.069,-0.20],[5.083,-0.10],[5.096,0.20],[5.109,0.30],[5.123,0.10],[5.136,0.00],[5.149,-0.10],[5.163,-0.40],[5.176,-0.70],[5.189,-0.20],[5.203,0.00],[5.216,-0.10],[5.229,0.20],[5.243,0.10],[5.256,0.30],[5.269,0.20],[5.283,0.00],[5.296,-0.10],[5.309,0.10],[5.323,0.40],[5.336,0.20],[5.349,0.00],[5.363,0.20],[5.376,0.10],[5.389,0.00],[5.403,-0.10],[5.416,0.05],[5.429,0.20],[5.443,0.00],[5.456,-0.10],[5.469,-0.20],[5.483,-0.30],[5.496,0.00],[5.507,0.60],[5.517,1.00],[5.528,0.20],[5.539,-0.20],
[5.544,-0.20],[5.557,-0.40],[5.571,0.00],[5.584,-0.10],[5.597,-0.20],[5.611,0.10],[5.624,0.20],[5.637,0.30],[5.651,0.10],[5.664,-0.40],[5.677,-0.20],[5.691,0.00],[5.704,0.20],[5.717,0.10],[5.731,0.20],[5.744,-0.20],[5.757,0.15],[5.771,0.10],[5.784,0.20],[5.797,0.00],[5.811,0.20],[5.824,0.10],[5.832,0.80],[5.843,-0.40],[5.856,-0.20],[5.869,0.00],[5.883,-0.10],[5.896,-0.40],[5.909,-0.20],[5.923,0.20],[5.936,0.00],[5.949,-0.20],[5.963,0.00],[5.976,-0.80],[5.989,-0.10],[6.003,0.10],[6.016,-0.40],[6.029,-0.70],[6.043,0.00],[6.056,-0.20],[6.069,-0.10],[6.083,0.00],[6.096,0.20],[6.109,0.10],[6.123,0.00],[6.136,0.15],[6.149,-0.20],[6.163,-0.80],[6.176,-0.40],[6.189,0.00],[6.203,0.20],[6.216,0.15],[6.229,0.10],[6.243,0.20],[6.256,0.30],[6.269,0.00],[6.283,0.15],[6.296,0.80],[6.307,1.10],[6.317,1.20],[6.328,0.70],[6.339,-0.20],[6.352,-0.40],[6.365,-0.70],[6.379,-0.10],[6.392,-0.20],[6.405,0.00],[6.419,-0.30],[6.432,-0.50],[6.445,-0.10],[6.459,0.00],[6.472,0.10],[6.485,-0.20],[6.499,-0.40],[6.512,-0.60],[6.525,-0.20],[6.539,0.00],[6.552,-0.10],[6.565,-0.40],[6.579,0.00],[6.592,0.20],[6.605,0.10],[6.619,0.00],[6.632,-0.10],[6.645,-0.30],[6.659,-0.50],[6.672,-0.20],[6.685,0.00],[6.699,0.10],[6.712,-0.10],[6.725,-0.20],[6.739,-0.40],[6.752,0.00],[6.765,0.20],[6.779,0.10],[6.792,0.00],[6.805,-0.10],[6.819,-0.40],[6.832,-0.50],[6.845,-0.20],[6.859,0.00],[6.872,0.20],[6.885,0.30],[6.899,0.00],[6.912,0.20],[6.925,0.60],[6.936,0.55],[6.949,0.40],[6.963,-0.20],[6.976,-0.10],[6.989,-0.40],[7.003,-0.20],[7.016,0.00],[7.029,-0.20],[7.043,-0.40],[7.056,-0.10],[7.069,-0.20],[7.083,-0.30],[7.096,0.00],[7.109,-0.10],[7.123,-0.20],[7.136,-0.40],[7.149,-0.20],[7.163,-0.10],[7.176,-0.40],[7.189,-0.20],[7.203,0.00],[7.216,-0.10],[7.229,-0.20],[7.243,-0.30],[7.256,-0.40],[7.269,-0.20],[7.283,0.00],[7.291,0.70],[7.304,1.30],[7.317,1.60],[7.331,1.00],[7.341,2.00],[7.352,0.50],[7.360,2.15],[7.371,0.70],[7.381,2.10],[7.392,0.80],[7.403,1.80],[7.413,0.20],[7.424,1.70],[7.435,0.30],[7.445,2.35],[7.456,0.50],[7.467,2.00],[7.477,0.20],[7.488,1.40],[7.496,0.80],[7.507,-0.10],[7.517,0.00],[7.531,-0.20],[7.544,0.20],[7.557,-0.50],[7.571,0.00],[7.584,-0.40],[7.597,-0.20],[7.611,0.00],[7.624,-0.30],[7.637,-0.70],[7.651,-0.20],[7.664,-0.80],[7.677,-0.10],[7.691,-0.30],[7.704,-0.20],[7.717,-0.40],[7.731,0.00],[7.744,0.20],[7.757,-0.20],[7.771,-0.40],[7.784,-0.10],[7.797,-0.30],[7.811,0.00],[7.824,-0.20],[7.837,-0.30],[7.851,-0.10],[7.864,0.20],[7.877,-0.30],[7.891,-0.40],[7.904,-0.20],[7.917,-0.10],[7.931,0.00],[7.944,0.20],[7.957,0.00],[7.971,-0.20],[7.984,0.20],[7.997,0.40],[8.011,0.10],[8.024,-0.20],[8.037,0.10],[8.051,0.65],[8.064,0.00],[8.077,-0.60],[8.091,-1.25],[8.104,-0.40],[8.117,-0.20],[8.131,0.00],[8.144,-0.20],[8.157,-0.40],[8.171,-0.10],[8.184,-0.20],[8.197,-0.10],[8.211,-0.20],[8.224,-0.40],[8.237,-0.30],[8.251,-0.50],[8.264,-1.00],[8.277,-0.50],[8.291,-0.40],[8.304,-0.20],[8.317,0.00],[8.331,0.10],[8.344,-0.20],[8.357,-0.40],[8.371,0.00],[8.384,0.20],[8.397,-0.20],[8.411,0.00]];

// ---- layout / style ----
var traces = [traceA, traceB, traceC, traceD];
var stims = [stimA, stimB, stimC, stimD];
var panels = [
  {left: 152, right: 10, top: 73, height: 177, xMin: 0, xMax: 8.344, yMin: -1.98, yMax: 3.35, title: [643, 40], letter: [35, 39], tint: true},
  {left: 152, right: 0, top: 364, height: 192, xMin: 0, xMax: 8.424, yMin: -2.58, yMax: 3.18, title: [650, 334], letter: [35, 334], tint: true},
  {left: 150, right: 2, top: 658, height: 179, xMin: -0.016, xMax: 8.408, yMin: -2.16, yMax: 3.21, title: [647, 617], letter: [36, 619], tint: false},
  {left: 147, right: 0, top: 950, height: 177, xMin: -0.04, xMax: 8.424, yMin: -1.46, yMax: 3.85, title: [676, 918], letter: [39, 937], tint: false}
];
var bgColor = '#dde4f0';
var pink = '#fbd9e3';
var lineBlue = '#2677b5';
var lineUnderPink = '#6a6fa6';
var font = '"Liberation Sans", Arial, sans-serif';

var grids = [], xAxes = [], yAxes = [], series = [], visualMaps = [], graphics = [];

panels.forEach(function (p, i) {
  grids.push({
    left: p.left, right: p.right, top: p.top, height: p.height,
    show: true, backgroundColor: bgColor, borderWidth: 0,
    containLabel: false, outerBoundsMode: 'none'
  });
  var isLast = i === panels.length - 1;
  xAxes.push({
    gridIndex: i, type: 'value', min: p.xMin, max: p.xMax,
    show: isLast,
    axisLine: {show: false}, axisTick: {show: false}, splitLine: {show: false},
    axisLabel: {
      show: isLast, customValues: timeTicks, margin: 11,
      fontSize: 19, color: '#262626', fontFamily: font,
      formatter: function (v) { return String(Math.round(v)); }
    }
  });
  yAxes.push({
    gridIndex: i, type: 'value', min: p.yMin, max: p.yMax, show: false,
    splitLine: {show: false}
  });
  var shade = {
    silent: true,
    itemStyle: {color: pink, borderColor: '#e2b9cd', borderWidth: 1},
    data: stims[i].map(function (s) { return [{xAxis: s[0]}, {xAxis: s[1]}]; })
  };
  var line = {
    type: 'line', xAxisIndex: i, yAxisIndex: i,
    data: traces[i], showSymbol: false, symbol: 'none',
    lineStyle: {width: 2}, z: 3, silent: true,
    markArea: shade
  };
  if (p.tint) {
    // trace inside the shaded windows is tinted (shade laid over it in the original)
    visualMaps.push({
      type: 'piecewise', show: false, seriesIndex: series.length, dimension: 0,
      pieces: stims[i].map(function (s) { return {gte: s[0], lte: s[1], color: lineUnderPink}; }),
      outOfRange: {color: lineBlue}
    });
  } else {
    line.lineStyle.color = lineBlue;
    line.itemStyle = {color: lineBlue};
  }
  series.push(line);

  graphics.push({
    type: 'text', x: p.letter[0], y: p.letter[1],
    style: {text: letters[i], font: 'bold 62px ' + font, fill: '#111', textAlign: 'center', textVerticalAlign: 'middle'}
  });
  graphics.push({
    type: 'text', x: p.title[0], y: p.title[1],
    style: {text: titles[i], font: '20px ' + font, fill: '#262626', textAlign: 'center', textVerticalAlign: 'middle'}
  });
});

graphics.push({
  type: 'text', x: 662, y: 1172,
  style: {text: 'Time (min)', font: '20px ' + font, fill: '#262626', textAlign: 'center', textVerticalAlign: 'middle'}
});

var chart = echarts.init(document.getElementById('chart'), null, {renderer: 'canvas'});
chart.setOption({
  animation: false,
  backgroundColor: '#ffffff',
  textStyle: {fontFamily: font},
  grid: grids,
  xAxis: xAxes,
  yAxis: yAxes,
  visualMap: visualMaps,
  series: series,
  graphic: graphics
});
</script>
</body>
</html>
